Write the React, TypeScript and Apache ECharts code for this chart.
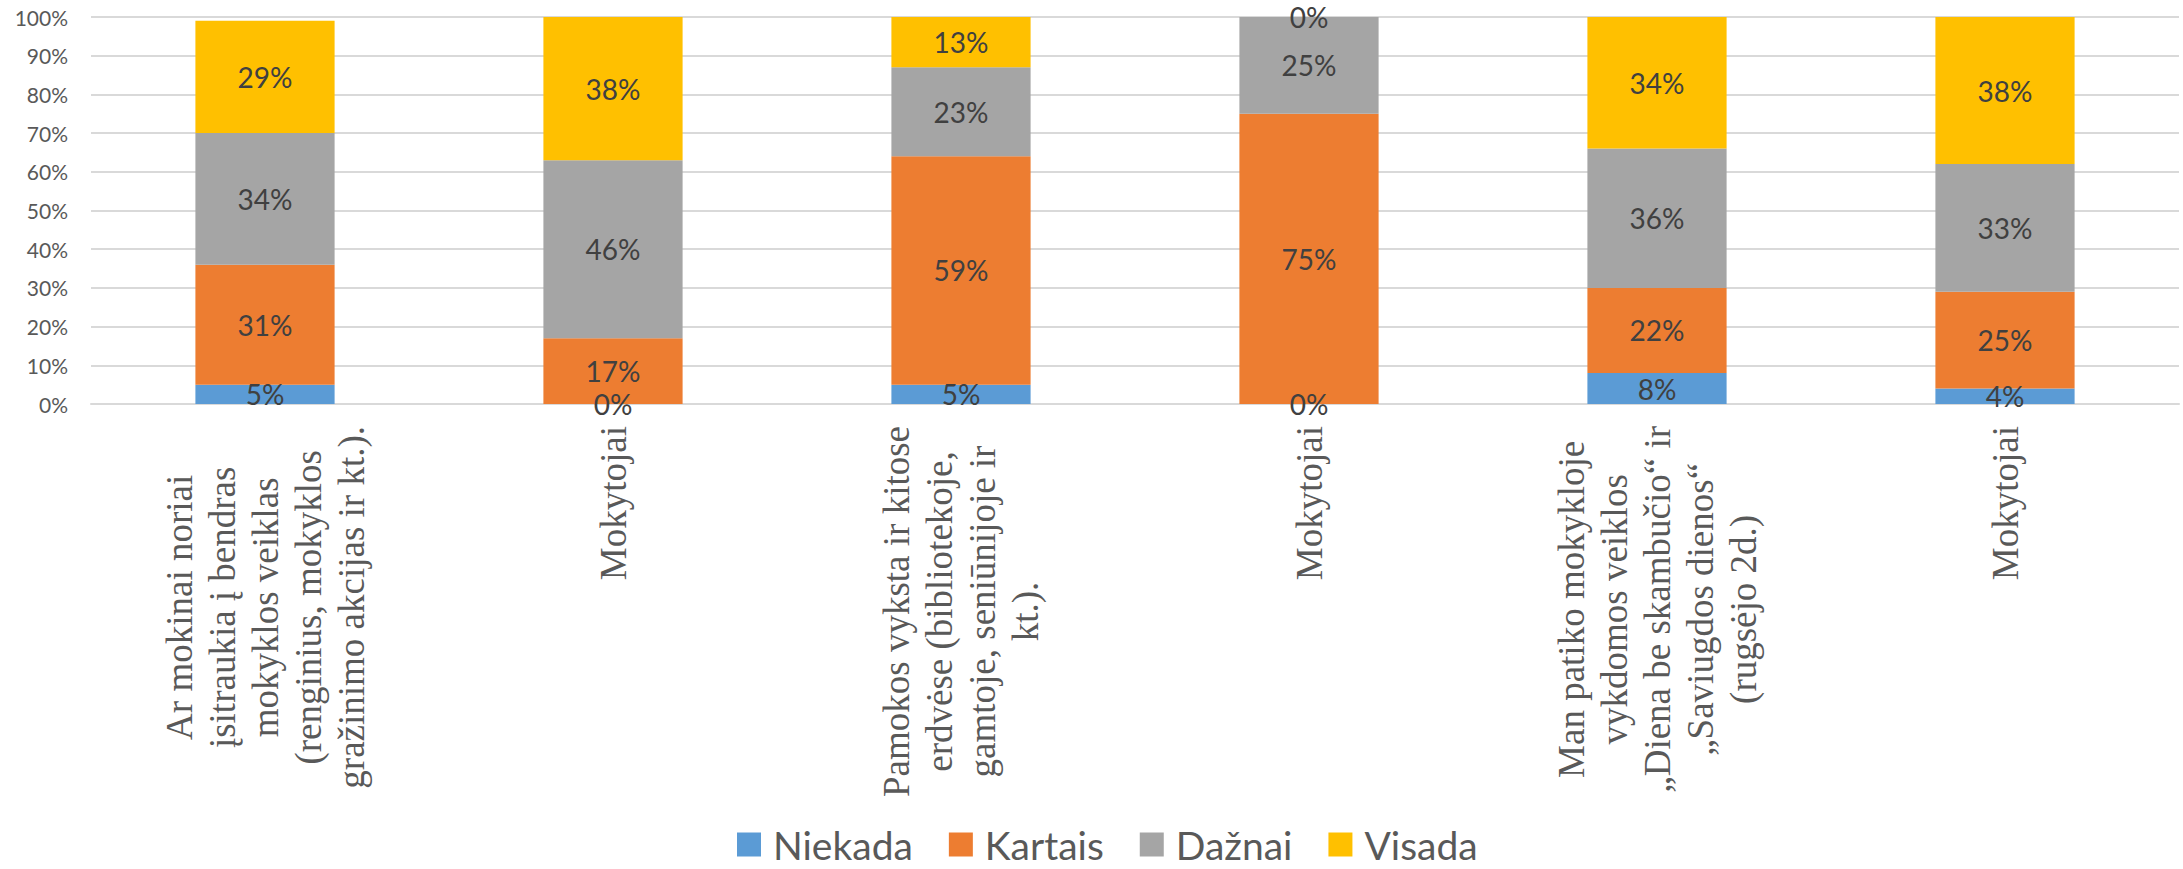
import React, { useEffect, useRef } from "react";
import * as echarts from "echarts";

const categories = [
  "Ar mokinai noriai\nįsitraukia į bendras\nmokyklos veiklas\n(renginius, mokyklos\ngražinimo akcijas ir kt.).",
  "Mokytojai",
  "Pamokos vyksta ir kitose\nerdvėse (bibliotekoje,\ngamtoje, seniūnijoje ir\nkt.).",
  "Mokytojai",
  "Man patiko mokykloje\nvykdomos veiklos\n„Diena be skambučio“ ir\n„Saviugdos dienos“\n(rugsėjo 2d.)",
  "Mokytojai",
];

const seriesNames = ["Niekada", "Kartais", "Dažnai", "Visada"];
const niekada = [5, 0, 5, 0, 8, 4];
const kartais = [31, 17, 59, 75, 22, 25];
const daznai = [34, 46, 23, 25, 36, 33];
const visada = [29, 38, 13, 0, 34, 38];
const colors = ["#5B9BD5", "#ED7D31", "#A5A5A5", "#FFC000"];

export default function App() {
  const ref = useRef<HTMLDivElement>(null);
  useEffect(() => {
    if (!ref.current) return;
    const chart = echarts.init(ref.current, undefined, { renderer: "svg" });
    const values = [niekada, kartais, daznai, visada];
    chart.setOption({
      animation: false,
      color: colors,
      grid: { left: 91, right: 4, top: 17, bottom: 465, containLabel: false },
      legend: {
        data: seriesNames,
        left: 732,
        top: 820,
        itemWidth: 24,
        itemHeight: 24,
        itemGap: 36,
        icon: "rect",
        textStyle: {
          fontFamily: "Lato",
          fontSize: 39,
          color: "#595959",
          padding: [0, 0, 0, 7],
        },
      },
      xAxis: {
        type: "category",
        data: categories,
        axisLine: { show: true, lineStyle: { color: "#d9d9d9", width: 2 } },
        axisTick: { show: false },
        axisLabel: {
          interval: 0,
          rotate: 90,
          margin: 22,
          formatter: (v: string) =>
            v
              .split("\n")
              .map((l) => `{c|${l}}`)
              .join("\n"),
          rich: {
            c: {
              align: "center",
              fontFamily: "Liberation Serif",
              fontSize: 37,
              lineHeight: 43,
              color: "#595959",
            },
          },
        },
      },
      yAxis: {
        type: "value",
        min: 0,
        max: 100,
        interval: 10,
        axisLine: { show: false },
        axisTick: { show: false },
        axisLabel: {
          formatter: "{value}%",
          fontFamily: "Lato",
          fontSize: 21,
          color: "#595959",
          margin: 23,
        },
        splitLine: { lineStyle: { color: "#d9d9d9", width: 2 } },
      },
      series: seriesNames.map((name, i) => ({
        name,
        type: "bar",
        stack: "total",
        barCategoryGap: "60%",
        data: values[i],
        label: {
          show: true,
          position: "inside",
          formatter: "{c}%",
          fontFamily: "Lato",
          fontSize: 28,
          color: "#404040",
        },
      })),
    });
    return () => chart.dispose();
  }, []);
  return (
    <div
      ref={ref}
      style={{ position: "absolute", left: 0, top: 0, width: 2183, height: 869 }}
    />
  );
}
